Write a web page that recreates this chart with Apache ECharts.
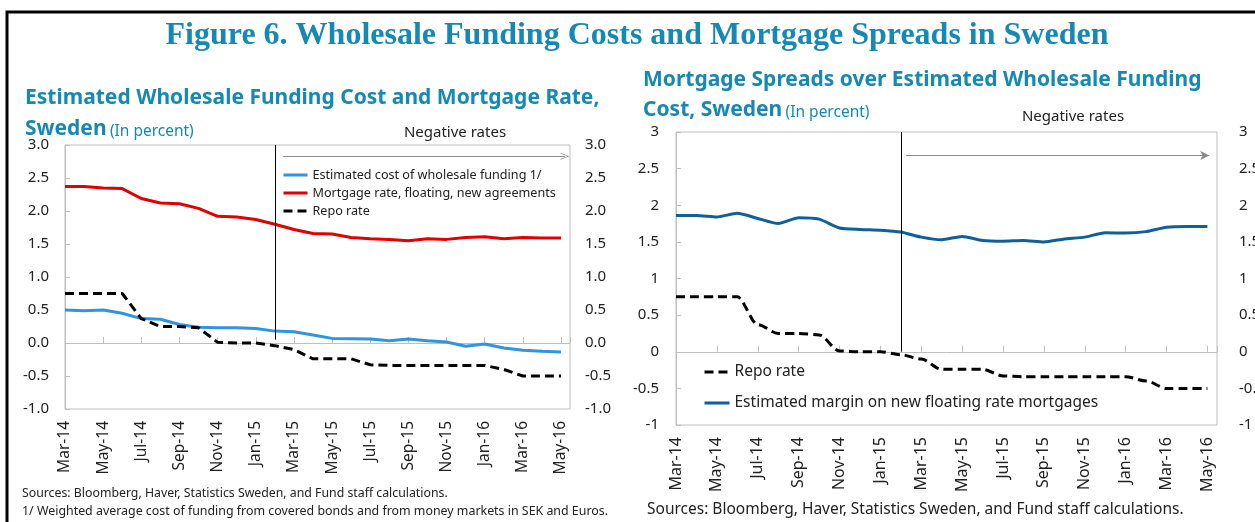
<!DOCTYPE html>
<html>
<head>
<meta http-equiv="Content-Type" content="text/html;charset=utf-8" />
<title>Figure 6</title>
<script src="https://cdn.jsdelivr.net/npm/echarts@6/dist/echarts.min.js"></script>
<style>
	html, body { margin: 0; padding: 0; background: #fff; }
	#container { width: 1255px; height: 522px; }
</style>
</head>
<body>
<div id="container"></div>
<script type="text/javascript">
// monthly data, Mar-14 .. May-16
var months = ['Mar-14','Apr-14','May-14','Jun-14','Jul-14','Aug-14','Sep-14','Oct-14','Nov-14','Dec-14',
	'Jan-15','Feb-15','Mar-15','Apr-15','May-15','Jun-15','Jul-15','Aug-15','Sep-15','Oct-15','Nov-15','Dec-15',
	'Jan-16','Feb-16','Mar-16','Apr-16','May-16'];
var wholesaleCost = [0.50,0.49,0.50,0.45,0.37,0.36,0.28,0.24,0.23,0.23,0.22,0.18,0.17,0.12,0.07,0.065,0.06,0.035,0.06,0.035,0.015,-0.05,-0.015,-0.075,-0.11,-0.125,-0.135];
var mortgageRate = [2.37,2.37,2.35,2.34,2.19,2.12,2.11,2.04,1.92,1.91,1.87,1.80,1.72,1.66,1.65,1.60,1.58,1.57,1.55,1.58,1.57,1.60,1.61,1.58,1.60,1.59,1.59];
var repoRate = [0.75,0.75,0.75,0.75,0.37,0.25,0.25,0.23,0.01,0,0,-0.04,-0.10,-0.24,-0.24,-0.24,-0.33,-0.34,-0.34,-0.34,-0.34,-0.34,-0.34,-0.40,-0.50,-0.50,-0.50];
var mortgageMargin = [1.86,1.86,1.84,1.89,1.82,1.75,1.83,1.81,1.69,1.67,1.66,1.635,1.565,1.53,1.575,1.52,1.51,1.52,1.50,1.54,1.565,1.625,1.62,1.64,1.70,1.71,1.71];

var negStart = 11;      // Feb-15, start of negative repo rate
var xMax = 26.47;

var FONT = 'Noto Sans';
var TEAL = '#1589b4';
var GRAY = '#bfbfbf';

function pairs(arr) {
	return arr.map(function (v, i) { return [i, v]; });
}

function monthLabel(v) {
	return Number.isInteger(v) && months[v] ? months[v] : '';
}

// two x axes per grid: one for labels at the bottom, one drawn at y = 0 with inward ticks
function xAxes(grid, yIdx, fs) {
	return [{
		type: 'value', gridIndex: grid, min: 0, max: xMax, interval: 2, position: 'bottom',
		axisLine: { show: false, onZero: false },
		axisTick: { show: false },
		splitLine: { show: false },
		axisLabel: { rotate: 90, margin: 12, fontSize: fs, color: '#222', fontFamily: FONT, formatter: monthLabel, showMaxLabel: false }
	}, {
		type: 'value', gridIndex: grid, min: 0, max: xMax, interval: 2, position: 'bottom',
		axisLine: { show: true, onZero: true, onZeroAxisIndex: yIdx, lineStyle: { color: GRAY, width: 1 } },
		axisTick: { show: true, inside: true, length: 6, lineStyle: { color: GRAY } },
		axisLabel: { show: false },
		splitLine: { show: false }
	}];
}

function yAxes(grid, fmt, lm, rm) {
	return [{
		type: 'value', gridIndex: grid, min: -1, max: 3, interval: 0.5, position: 'left',
		axisLine: { show: true, lineStyle: { color: GRAY } },
		axisTick: { show: false },
		splitLine: { show: false },
		axisLabel: { fontSize: 15, color: '#222', fontFamily: FONT, margin: lm, formatter: fmt }
	}, {
		type: 'value', gridIndex: grid, min: -1, max: 3, interval: 0.5, position: 'right',
		axisLine: { show: true, lineStyle: { color: GRAY } },
		axisTick: { show: true, length: 5, lineStyle: { color: GRAY } },
		splitLine: { show: false },
		axisLabel: { fontSize: 15, color: '#222', fontFamily: FONT, margin: rm, formatter: fmt }
	}];
}

var fmtLeft = function (v) { return v.toFixed(1); };
var fmtRight = function (v) { return String(v); };

var dash = [9, 5];

function markers(arrowY, x0, x1, vEnd, arrowSym) {
	return {
		silent: true,
		symbol: 'none',
		label: { show: false },
		animation: false,
		data: [
			[{ coord: [negStart, 3], lineStyle: { color: '#000', width: 1, type: 'solid' } },
			 { coord: [negStart, vEnd] }],
			[{ coord: [x0, arrowY], symbol: 'none', lineStyle: { color: '#8c8c8c', width: 1.2, type: 'solid' } },
			 { coord: [x1, arrowY], symbol: arrowSym, symbolSize: [7, 9] }]
		]
	};
}

var legendBase = {
	orient: 'vertical', padding: 0, itemHeight: 14,
	itemStyle: { color: 'rgba(0,0,0,0)', borderWidth: 0 },
	lineStyle: { width: 3 }
};

var dom = document.getElementById('container');
var myChart = echarts.init(dom);

var option = {
	animation: false,
	backgroundColor: '#fff',
	textStyle: { fontFamily: FONT },
	grid: [
		{ left: 65, top: 145, width: 505, height: 264, show: true, borderColor: GRAY, borderWidth: 1, outerBoundsMode: 'none' },
		{ left: 676, top: 132, width: 541, height: 293, show: true, borderColor: GRAY, borderWidth: 1, outerBoundsMode: 'none' }
	],
	xAxis: xAxes(0, 0, 15.5).concat(xAxes(1, 2, 16)),
	yAxis: yAxes(0, fmtLeft, 16, 15).concat(yAxes(1, fmtRight, 17, 22)),
	legend: [Object.assign({}, legendBase, {
		left: 282, top: 168, itemWidth: 24, itemGap: 4,
		textStyle: { fontSize: 12.6, color: '#222', fontFamily: FONT, lineHeight: 14 },
		data: ['Estimated cost of wholesale funding 1/', 'Mortgage rate, floating, new agreements', 'Repo rate']
	}), Object.assign({}, legendBase, {
		left: 703, top: 364, itemWidth: 25, itemGap: 15,
		textStyle: { fontSize: 15.5, color: '#222', fontFamily: FONT, lineHeight: 14 },
		data: ['Repo rate', 'Estimated margin on new floating rate mortgages']
	})],
	series: [{
		name: 'Estimated cost of wholesale funding 1/', type: 'line',
		xAxisIndex: 0, yAxisIndex: 0, symbol: 'none',
		lineStyle: { color: '#3393dc', width: 3 }, itemStyle: { color: '#3393dc' },
		data: pairs(wholesaleCost),
		markLine: markers(2.83, 11.43, 26.2, 0.05, 'path://M0,10 L5,0 L10,10 L9,10 L5,2 L1,10 Z')
	}, {
		name: 'Mortgage rate, floating, new agreements', type: 'line',
		xAxisIndex: 0, yAxisIndex: 0, symbol: 'none',
		lineStyle: { color: '#e00000', width: 3 }, itemStyle: { color: '#e00000' },
		data: pairs(mortgageRate)
	}, {
		name: 'Repo rate', type: 'line',
		xAxisIndex: 0, yAxisIndex: 0, symbol: 'none',
		lineStyle: { color: '#000', width: 3, type: dash }, itemStyle: { color: '#000' },
		data: pairs(repoRate)
	}, {
		name: 'Repo rate', type: 'line',
		xAxisIndex: 2, yAxisIndex: 2, symbol: 'none', smooth: 0.3, smoothMonotone: 'x',
		lineStyle: { color: '#000', width: 3, type: dash }, itemStyle: { color: '#000' },
		data: pairs(repoRate)
	}, {
		name: 'Estimated margin on new floating rate mortgages', type: 'line',
		xAxisIndex: 2, yAxisIndex: 2, symbol: 'none', smooth: 0.2,
		lineStyle: { color: '#0f5f9a', width: 3 }, itemStyle: { color: '#0f5f9a' },
		data: pairs(mortgageMargin),
		markLine: markers(2.68, 11.26, 26.09, 0, 'arrow')
	}],
	graphic: [
		{ type: 'polyline', silent: true, shape: { points: [[7, 522], [7, 12], [1255, 12]] }, style: { stroke: '#000', lineWidth: 3, fill: null } },
		{ type: 'text', x: 637, y: 36, style: { text: 'Figure 6. Wholesale Funding Costs and Mortgage Spreads in Sweden', font: 'bold 32px "Liberation Serif"', fill: TEAL, align: 'center', verticalAlign: 'middle' } },
		{ type: 'text', x: 25, y: 98, style: { text: 'Estimated Wholesale Funding Cost and Mortgage Rate,', font: 'bold 21px "Noto Sans"', fill: TEAL, verticalAlign: 'middle' } },
		{ type: 'text', x: 25, y: 127, style: {
			text: '{b|Sweden} {r|(In percent)}', verticalAlign: 'middle', fill: TEAL,
			rich: { b: { font: 'bold 21px "Noto Sans"', fill: TEAL, lineHeight: 26, verticalAlign: 'bottom' }, r: { font: '15.5px "Noto Sans"', fill: TEAL, lineHeight: 26, verticalAlign: 'bottom' } } } },
		{ type: 'text', x: 643, y: 80, style: { text: 'Mortgage Spreads over Estimated Wholesale Funding', font: 'bold 21px "Noto Sans"', fill: TEAL, verticalAlign: 'middle' } },
		{ type: 'text', x: 643, y: 108, style: {
			text: '{b|Cost, Sweden} {r|(In percent)}', verticalAlign: 'middle', fill: TEAL,
			rich: { b: { font: 'bold 21px "Noto Sans"', fill: TEAL, lineHeight: 26, verticalAlign: 'bottom' }, r: { font: '15.5px "Noto Sans"', fill: TEAL, lineHeight: 26, verticalAlign: 'bottom' } } } },
		{ type: 'text', x: 455, y: 133, style: { text: 'Negative rates', font: '15px "Noto Sans"', fill: '#222', align: 'center', verticalAlign: 'middle' } },
		{ type: 'text', x: 1073, y: 117, style: { text: 'Negative rates', font: '15px "Noto Sans"', fill: '#222', align: 'center', verticalAlign: 'middle' } },
		{ type: 'text', x: 22, y: 493, style: { text: 'Sources: Bloomberg, Haver, Statistics Sweden, and Fund staff calculations.', font: '12.3px "Noto Sans"', fill: '#222', verticalAlign: 'middle' } },
		{ type: 'text', x: 22, y: 511, style: { text: '1/ Weighted average cost of funding from covered bonds and from money markets in SEK and Euros.', font: '12.4px "Noto Sans"', fill: '#222', verticalAlign: 'middle' } },
		{ type: 'text', x: 647, y: 510, style: { text: 'Sources: Bloomberg, Haver, Statistics Sweden, and Fund staff calculations.', font: '15.5px "Noto Sans"', fill: '#222', verticalAlign: 'middle' } }
	]
};

myChart.setOption(option, true);
</script>
</body>
</html>
